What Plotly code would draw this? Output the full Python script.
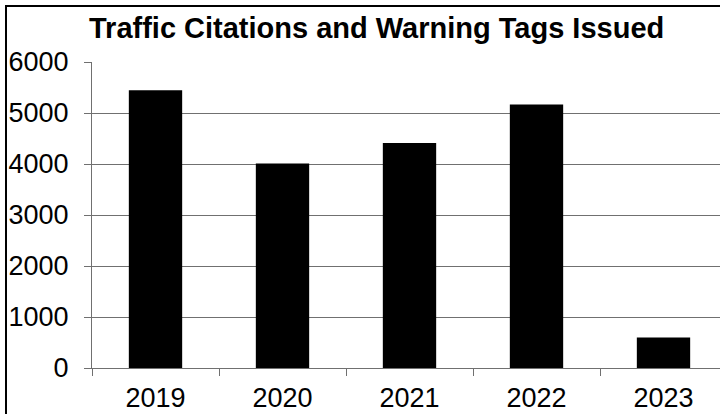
import plotly.graph_objects as go

years = ["2019", "2020", "2021", "2022", "2023"]
counts = [5445, 4010, 4410, 5165, 600]
y_ticks = [0, 1000, 2000, 3000, 4000, 5000, 6000]
title_text = "Traffic Citations and Warning Tags Issued"

W, H = 720, 414
L, T, B, R = 92, 62, 46, 0
pw, ph = W - L - R, H - T - B

FONT = "Liberation Sans, Arial, sans-serif"
GRID = "#707070"

fig = go.Figure(go.Bar(x=years, y=counts, marker=dict(color="black", line=dict(width=0))))

fig.update_layout(
    width=W, height=H,
    margin=dict(l=L, r=R, t=T, b=B, pad=0),
    paper_bgcolor="white", plot_bgcolor="white",
    bargap=0.58,
    showlegend=False,
    font=dict(family=FONT, size=27, color="black"),
)

fig.update_xaxes(
    type="category",
    range=[-0.5, -0.5 + pw / 127.0],
    showgrid=False,
    showline=True, linecolor=GRID, linewidth=1,
    ticks="outside", tickson="boundaries", ticklen=7, tickcolor=GRID, tickwidth=1,
    tickfont=dict(family=FONT, size=27, color="black"),
    ticklabelstandoff=6,
)
fig.update_yaxes(
    range=[0, 6000],
    tickvals=y_ticks,
    showgrid=True, gridcolor=GRID, gridwidth=1,
    showline=True, linecolor=GRID, linewidth=1,
    ticks="outside", ticklen=7, tickcolor=GRID, tickwidth=1,
    tickfont=dict(family=FONT, size=27, color="black"),
    ticklabelstandoff=10,
    zeroline=False,
)

# title
fig.add_annotation(
    text="<b>" + title_text + "</b>",
    xref="paper", yref="paper",
    x=(376 - L) / pw, y=(H - B - 28) / ph,
    xanchor="center", yanchor="middle",
    showarrow=False,
    font=dict(family=FONT, size=29, color="black"),
)

# outer chart border (extends beyond the cropped right/bottom)
fig.add_shape(
    type="rect", xref="paper", yref="paper",
    x0=(6 - L) / pw, x1=(W + 20 - L) / pw,
    y0=(H - B - (H + 20)) / ph, y1=(H - B - 6) / ph,
    line=dict(color="black", width=2), fillcolor="rgba(0,0,0,0)",
    layer="above",
)

fig.write_html("out.html")
